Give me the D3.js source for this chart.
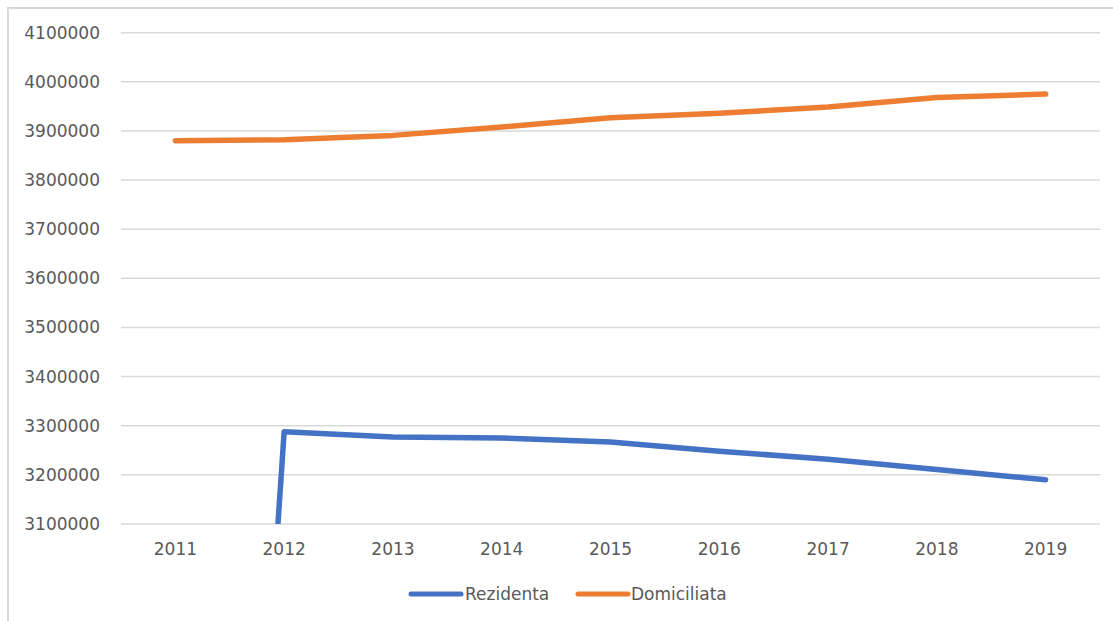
<!DOCTYPE html>
<html>
<head>
<meta charset="utf-8">
<script src="https://cdn.jsdelivr.net/npm/d3@7"></script>
<style>
  html, body { margin: 0; padding: 0; background: #fff; }
  svg { display: block; }
</style>
</head>
<body>
<svg id="chart" width="1113" height="621"></svg>
<script>
const years = ["2011", "2012", "2013", "2014", "2015", "2016", "2017", "2018", "2019"];
const rezidenta = [0, 3288000, 3277000, 3275000, 3267000, 3248000, 3232000, 3211000, 3190000];
const domiciliata = [3880000, 3882000, 3891000, 3908000, 3927000, 3936000, 3949000, 3968000, 3975000];
const yTicks = [3100000, 3200000, 3300000, 3400000, 3500000, 3600000, 3700000, 3800000, 3900000, 4000000, 4100000];
const seriesNames = ["Rezidenta", "Domiciliata"];
const seriesColors = ["#4472C4", "#ED7D31"];

const svg = d3.select("#chart");
const W = 1113, H = 621;
const plot = { left: 121, right: 1100, top: 32.7, bottom: 524 };
const font = "'DejaVu Sans', sans-serif";
const textColor = "#595959";
const gridColor = "#d9d9d9";

// chart frame (top and left edges visible)
svg.append("path")
  .attr("d", `M8,${H} L8,8 L${W},8`)
  .attr("fill", "none")
  .attr("stroke", gridColor)
  .attr("stroke-width", 2);

const x = d3.scaleBand().domain(years).range([plot.left, plot.right]).padding(0);
const y = d3.scaleLinear().domain([3100000, 4100000]).range([plot.bottom, plot.top]);

// gridlines
svg.append("g").selectAll("line").data(yTicks).join("line")
  .attr("x1", plot.left).attr("x2", plot.right)
  .attr("y1", d => y(d)).attr("y2", d => y(d))
  .attr("stroke", gridColor).attr("stroke-width", 1.5);

// y axis labels
const yAxis = d3.axisLeft(y).tickValues(yTicks).tickFormat(d3.format("d")).tickSize(0).tickPadding(21);
const gy = svg.append("g").attr("transform", `translate(${plot.left},0)`).call(yAxis);
gy.select(".domain").remove();
gy.selectAll("text").attr("fill", textColor).attr("font-family", font).attr("font-size", "17px");

// x axis labels
const xAxis = d3.axisBottom(x).tickSize(0).tickPadding(19);
const gx = svg.append("g").attr("transform", `translate(0,${plot.bottom})`).call(xAxis);
gx.select(".domain").remove();
gx.selectAll("text").attr("fill", textColor).attr("font-family", font).attr("font-size", "17px");

// clip
svg.append("clipPath").attr("id", "plotclip")
  .append("rect")
  .attr("x", plot.left).attr("y", plot.top - 20)
  .attr("width", plot.right - plot.left).attr("height", plot.bottom - plot.top + 20);

const line = d3.line()
  .x((d, i) => x(years[i]) + x.bandwidth() / 2)
  .y(d => y(d));

const g = svg.append("g").attr("clip-path", "url(#plotclip)");
[rezidenta, domiciliata].forEach((s, k) => {
  g.append("path")
    .attr("d", line(s))
    .attr("fill", "none")
    .attr("stroke", seriesColors[k])
    .attr("stroke-width", 5.5)
    .attr("stroke-linejoin", "round")
    .attr("stroke-linecap", "round");
});

// legend
const legendItems = [
  { name: seriesNames[0], color: seriesColors[0], x1: 411, x2: 461, tx: 465 },
  { name: seriesNames[1], color: seriesColors[1], x1: 578, x2: 628, tx: 631 }
];
const lg = svg.append("g");
legendItems.forEach(it => {
  lg.append("line")
    .attr("x1", it.x1).attr("x2", it.x2)
    .attr("y1", 594).attr("y2", 594)
    .attr("stroke", it.color).attr("stroke-width", 5).attr("stroke-linecap", "round");
  lg.append("text")
    .attr("x", it.tx).attr("y", 594)
    .attr("dy", "0.35em")
    .attr("fill", textColor).attr("font-family", font).attr("font-size", "17px")
    .text(it.name);
});
</script>
</body>
</html>
